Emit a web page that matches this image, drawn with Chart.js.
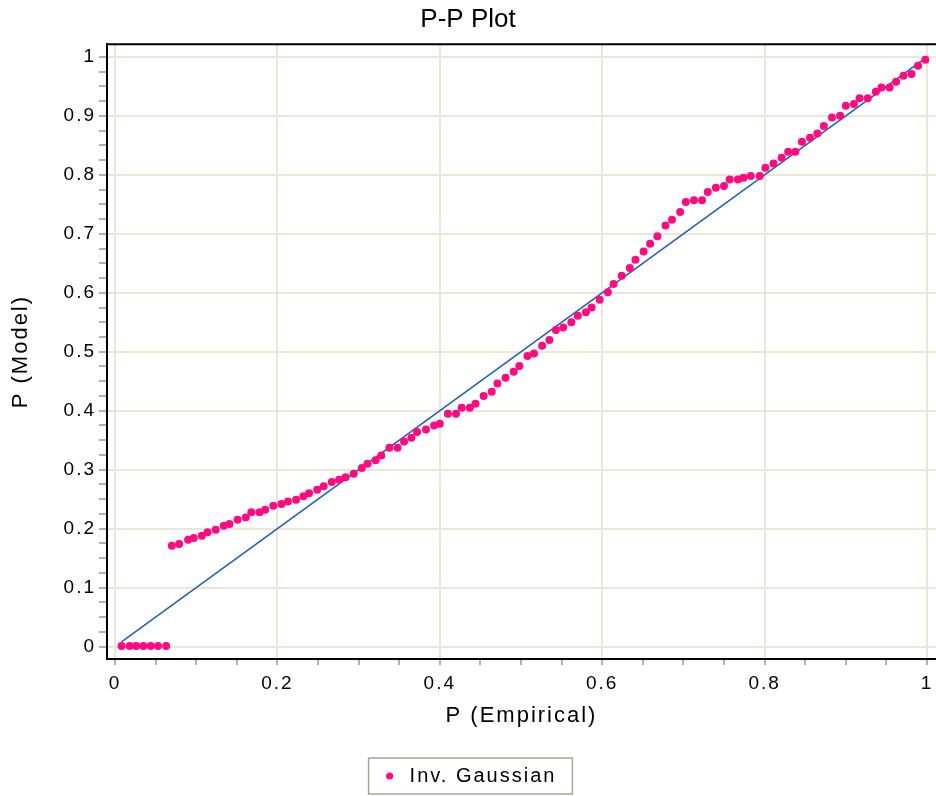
<!DOCTYPE html>
<html>
<head>
<meta charset="utf-8">
<script src="https://cdn.jsdelivr.net/npm/chart.js@4"></script>
<style>
  body { margin: 0; background: #fff; }
  canvas { display: block; }
</style>
</head>
<body>
<canvas id="pp-chart" width="936" height="796"></canvas>
<script>
// valeurs
const empirical = [
  0.008, 0.018, 0.026, 0.035, 0.044, 0.053, 0.063,
  0.070, 0.079, 0.090, 0.097, 0.107, 0.114, 0.124, 0.134, 0.141, 0.151, 0.161, 0.168, 0.178, 0.185, 0.195, 0.205, 0.213, 0.223,
  0.232, 0.239, 0.249, 0.257, 0.267, 0.276, 0.284, 0.294, 0.304, 0.311, 0.321, 0.328, 0.338, 0.348, 0.356, 0.365, 0.372, 0.383,
  0.393, 0.400, 0.410, 0.420, 0.427, 0.437, 0.444, 0.454, 0.464, 0.471, 0.481, 0.491, 0.498, 0.508, 0.516, 0.526, 0.535,
  0.543, 0.552, 0.562, 0.570, 0.580, 0.587, 0.597, 0.607, 0.614, 0.624, 0.634, 0.641, 0.651, 0.659, 0.668, 0.678, 0.686,
  0.696, 0.703, 0.713, 0.723, 0.730, 0.740, 0.750, 0.757, 0.767, 0.774, 0.783,
  0.794, 0.801, 0.811, 0.821, 0.829, 0.838, 0.846, 0.856, 0.865, 0.873, 0.883, 0.893, 0.900, 0.910, 0.917, 0.927, 0.937,
  0.944, 0.954, 0.962, 0.971, 0.981, 0.989, 0.998
];
const model = [
  0.001, 0.001, 0.001, 0.001, 0.001, 0.001, 0.001,
  0.171, 0.174, 0.181, 0.184, 0.188, 0.194, 0.198, 0.205, 0.208, 0.215, 0.219, 0.228, 0.228, 0.232, 0.239, 0.242, 0.246, 0.249,
  0.255, 0.260, 0.266, 0.272, 0.279, 0.283, 0.287, 0.293, 0.303, 0.310, 0.316, 0.324, 0.337, 0.337, 0.348, 0.354, 0.364, 0.368,
  0.375, 0.378, 0.395, 0.395, 0.405, 0.405, 0.412, 0.425, 0.432, 0.446, 0.456, 0.466, 0.476, 0.493, 0.497, 0.510, 0.520,
  0.537, 0.541, 0.550, 0.561, 0.567, 0.575, 0.588, 0.601, 0.615, 0.629, 0.642, 0.656, 0.670, 0.683, 0.696, 0.714, 0.724,
  0.737, 0.754, 0.757, 0.757, 0.771, 0.778, 0.781, 0.792, 0.792, 0.795, 0.798,
  0.798, 0.812, 0.819, 0.829, 0.839, 0.839, 0.856, 0.863, 0.870, 0.883, 0.897, 0.900, 0.917, 0.920, 0.930, 0.930, 0.941,
  0.948, 0.948, 0.958, 0.968, 0.971, 0.985, 0.995
];
const xMajor = [0, 0.2, 0.4, 0.6, 0.8, 1];
const yMajor = [0, 0.1, 0.2, 0.3, 0.4, 0.5, 0.6, 0.7, 0.8, 0.9, 1];
const seriesName = 'Inv. Gaussian';

const gridColor = '#ebe7d6';
const tickColor = '#9d9a8b';
const spacing = '2px'; // le texte de l'original est un peu espace

// ticks majeurs + mineurs entre eux
function withMinor(major, parts) {
  const out = [];
  for (let i = 0; i < major.length; i++) {
    out.push({ value: major[i], major: true });
    if (i < major.length - 1) {
      const step = (major[i + 1] - major[i]) / parts;
      for (let k = 1; k < parts; k++) out.push({ value: major[i] + k * step, major: false });
    }
  }
  return out;
}
const isMajor = (list, v) => list.some(m => Math.abs(m - v) < 1e-9);

const points = empirical.map((x, i) => ({ x: x, y: model[i] }));
const refLine = [
  { x: empirical[0], y: empirical[0] },
  { x: empirical[empirical.length - 1], y: empirical[empirical.length - 1] }
];

// espacement des lettres (sauf le titre), cadre du haut, boite de legende
const framePlugin = {
  id: 'frame',
  beforeLayout(chart) { chart.ctx.letterSpacing = spacing; },
  afterLayout(chart) {
    const t = chart.titleBlock;
    if (t && !t._noSpacing) {
      const draw = t.draw.bind(t);
      t.draw = function () {
        chart.ctx.letterSpacing = '0px';
        draw();
        chart.ctx.letterSpacing = spacing;
      };
      t._noSpacing = true;
    }
  },
  beforeDraw(chart) { chart.ctx.letterSpacing = spacing; },
  afterDraw(chart) {
    const c = chart.ctx, a = chart.chartArea;
    c.save();
    c.strokeStyle = '#000';
    c.lineWidth = 2;
    c.beginPath();
    c.moveTo(a.left, a.top);
    c.lineTo(a.right, a.top);
    c.stroke();
    const hb = chart.legend.legendHitBoxes[0];
    if (hb) {
      c.strokeStyle = '#a9a59a';
      c.lineWidth = 1.5;
      c.strokeRect(hb.left - 11, hb.top - 8, hb.width + 27, hb.height + 16);
    }
    c.restore();
  }
};

Chart.defaults.font.family = '"Liberation Sans", Arial, sans-serif';
Chart.defaults.color = '#000';

const ctx = document.getElementById('pp-chart');
new Chart(ctx, {
  type: 'scatter',
  data: {
    datasets: [{
      label: seriesName,
      data: points,
      pointRadius: 4,
      pointHoverRadius: 4,
      pointBackgroundColor: '#ff0a80',
      pointBorderWidth: 0,
      backgroundColor: '#ff0a80',
      borderColor: '#ff0a80'
    }, {
      type: 'line',
      label: 'ref',
      data: refLine,
      borderColor: '#2160b9',
      borderWidth: 1.6,
      pointRadius: 0,
      fill: false
    }]
  },
  options: {
    responsive: false,
    animation: false,
    layout: { padding: 0, autoPadding: false },
    scales: {
      x: {
        type: 'linear',
        min: -0.00985,
        max: 1.0111,
        afterBuildTicks: s => { s.ticks = withMinor(xMajor, 4); },
        afterFit: s => { s.height = 97; s.paddingLeft = 0; s.paddingRight = 0; },
        ticks: {
          autoSkip: false,
          maxRotation: 0,
          padding: 7,
          font: { size: 19 },
          callback: v => isMajor(xMajor, v) ? String(+v.toFixed(1)) : ''
        },
        grid: {
          lineWidth: 2,
          color: c => (c.tick && isMajor(xMajor, c.tick.value)) ? gridColor : 'rgba(0,0,0,0)',
          tickColor: tickColor,
          tickLength: 6,
          tickWidth: 1.5
        },
        border: { color: '#000', width: 2 },
        title: {
          display: true,
          text: 'P (Empirical)',
          font: { size: 22 },
          padding: { top: 0, bottom: 27 }
        }
      },
      y: {
        type: 'linear',
        min: -0.021,
        max: 1.0215,
        afterBuildTicks: s => { s.ticks = withMinor(yMajor, 4); },
        afterFit: s => { s.width = 107; s.paddingTop = 0; s.paddingBottom = 0; },
        ticks: {
          autoSkip: false,
          padding: 3,
          font: { size: 19 },
          callback: v => isMajor(yMajor, v) ? String(+v.toFixed(1)) : ''
        },
        grid: {
          lineWidth: 2,
          color: c => (c.tick && isMajor(yMajor, c.tick.value)) ? gridColor : 'rgba(0,0,0,0)',
          tickColor: tickColor,
          tickLength: 8,
          tickWidth: 1.5
        },
        border: { color: '#000', width: 2 },
        title: {
          display: true,
          text: 'P (Model)',
          font: { size: 22 },
          padding: { top: 8, bottom: 0 }
        }
      }
    },
    plugins: {
      title: {
        display: true,
        text: 'P-P Plot',
        font: { size: 26, weight: 'normal' },
        padding: { top: 4, bottom: 9 }
      },
      legend: {
        position: 'bottom',
        labels: {
          usePointStyle: true,
          pointStyle: 'circle',
          boxWidth: 20,
          boxHeight: 5,
          padding: 10,
          font: { size: 20 },
          filter: item => item.text === seriesName
        }
      },
      tooltip: { enabled: false }
    }
  },
  plugins: [framePlugin]
});
</script>
</body>
</html>
